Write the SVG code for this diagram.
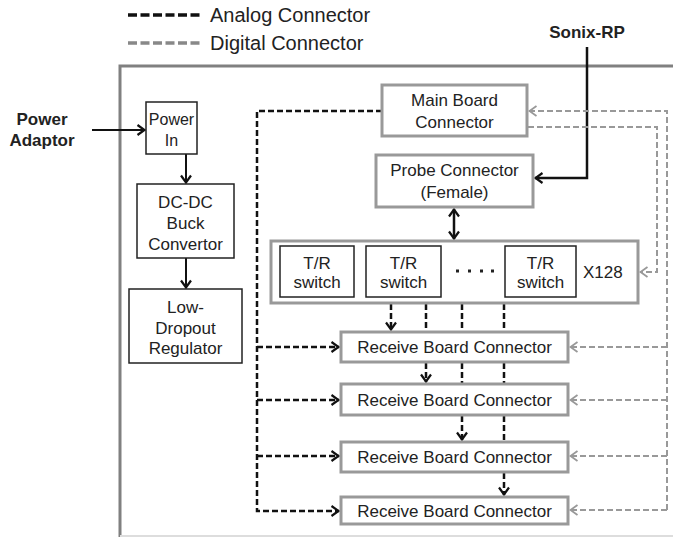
<svg xmlns="http://www.w3.org/2000/svg" width="673" height="537" viewBox="0 0 673 537">
<defs>
<style>
text{font-family:"Liberation Sans",Arial,sans-serif;font-size:17px;fill:#222;text-anchor:middle}
.b{font-weight:bold}
.sm{font-size:16px}
.lg{font-size:20px;text-anchor:start}
.gb{fill:#fff;stroke:#999;stroke-width:3}
.kb{fill:#fff;stroke:#222;stroke-width:1.5}
.an{fill:none;stroke:#111;stroke-width:2.5;stroke-dasharray:6 3}
.dg{fill:none;stroke:#999;stroke-width:2;stroke-dasharray:6 3}
.so{fill:none;stroke:#111;stroke-width:2.5}
</style>
<marker id="ak" viewBox="0 0 10 12" refX="9" refY="6" markerWidth="10" markerHeight="12" orient="auto-start-reverse" markerUnits="userSpaceOnUse"><path d="M1.5,1 L8.5,6 L1.5,11" fill="none" stroke="#111" stroke-width="2.2"/></marker>
<marker id="ag" viewBox="0 0 10 12" refX="9" refY="6" markerWidth="10" markerHeight="12" orient="auto" markerUnits="userSpaceOnUse"><path d="M1.5,1 L8.5,6 L1.5,11" fill="none" stroke="#999" stroke-width="1.8"/></marker>
</defs>

<g id="legend">
<line x1="128" y1="15" x2="200" y2="15" stroke="#111" stroke-width="3.5" stroke-dasharray="9 3.5"/>
<text class="lg" x="210" y="22">Analog Connector</text>
<line x1="128" y1="43" x2="200" y2="43" stroke="#888" stroke-width="3.5" stroke-dasharray="9 3.5"/>
<text class="lg" x="210" y="50">Digital Connector</text>
</g>

<g id="frame">
<path d="M120,537 V66 H673" fill="none" stroke="#808080" stroke-width="3"/>
<line x1="120" y1="536" x2="673" y2="536" stroke="#ddd" stroke-width="2"/>
</g>

<g id="labels">
<text class="b" x="587" y="38">Sonix-RP</text>
<text class="b" x="42" y="125">Power</text>
<text class="b" x="42" y="146">Adaptor</text>
</g>

<g id="connectors">
<path class="so" d="M587,47 V178 H535" marker-end="url(#ak)"/>
<line x1="92" y1="130" x2="145" y2="130" stroke="#111" stroke-width="2" marker-end="url(#ak)"/>
<line x1="186" y1="154" x2="186" y2="183" stroke="#111" stroke-width="2" marker-end="url(#ak)"/>
<line x1="186" y1="258" x2="186" y2="288" stroke="#111" stroke-width="2" marker-end="url(#ak)"/>
<line x1="454" y1="209" x2="454" y2="239" stroke="#111" stroke-width="2.5" marker-start="url(#ak)" marker-end="url(#ak)"/>
<path class="an" d="M382,111 H257 V511 H339" marker-end="url(#ak)"/>
<path class="an" d="M257,347 H339" marker-end="url(#ak)"/>
<path class="an" d="M257,400 H339" marker-end="url(#ak)"/>
<path class="an" d="M257,456 H339" marker-end="url(#ak)"/>
<path class="an" d="M391,304 V330" marker-end="url(#ak)"/>
<path class="an" d="M426,304 V332"/>
<path class="an" d="M426,363 V382" marker-end="url(#ak)"/>
<path class="an" d="M462,304 V332"/>
<path class="an" d="M462,363 V384"/>
<path class="an" d="M462,416 V440" marker-end="url(#ak)"/>
<path class="an" d="M504,304 V332"/>
<path class="an" d="M504,363 V384"/>
<path class="an" d="M504,416 V442"/>
<path class="an" d="M504,473 V495" marker-end="url(#ak)"/>
<path class="dg" d="M667,510 V111 H529" marker-end="url(#ag)"/>
<path class="dg" d="M667,347 H570" marker-end="url(#ag)"/>
<path class="dg" d="M667,400 H570" marker-end="url(#ag)"/>
<path class="dg" d="M667,456 H570" marker-end="url(#ag)"/>
<path class="dg" d="M667,510 H570" marker-end="url(#ag)"/>
<path class="dg" d="M528,127 H657 V272 H640" marker-end="url(#ag)"/>
</g>

<g id="power-in"><rect class="kb" x="146" y="102" width="51" height="52"/><text class="sm" x="171.5" y="125">Power</text><text class="sm" x="171.5" y="146">In</text></g>
<g id="dcdc"><rect class="kb" x="137" y="184" width="97" height="74"/><text x="185.5" y="208">DC-DC</text><text x="185.5" y="228.5">Buck</text><text x="185.5" y="249.5">Convertor</text></g>
<g id="ldo"><rect class="kb" x="129" y="289" width="113" height="74"/><text x="185.5" y="313">Low-</text><text x="185.5" y="333.5">Dropout</text><text x="185.5" y="354">Regulator</text></g>

<g id="main-board"><rect class="gb" x="382" y="85" width="145" height="51"/><text x="454.5" y="106">Main Board</text><text x="454.5" y="128">Connector</text></g>
<g id="probe"><rect class="gb" x="376" y="155" width="157" height="52"/><text x="454.5" y="176">Probe Connector</text><text x="454.5" y="198">(Female)</text></g>

<g id="tr-array">
<rect class="gb" x="271" y="241" width="367" height="62"/>
<rect class="kb" x="280" y="246" width="74" height="51"/><text x="317" y="269">T/R</text><text x="317" y="288">switch</text>
<rect class="kb" x="366" y="246" width="75" height="51"/><text x="403.5" y="269">T/R</text><text x="403.5" y="288">switch</text>
<rect class="kb" x="505" y="246" width="71" height="51"/><text x="540.5" y="269">T/R</text><text x="540.5" y="288">switch</text>
<g fill="#222"><rect x="456" y="269.5" width="3" height="3"/><rect x="468" y="269.5" width="3" height="3"/><rect x="480" y="269.5" width="3" height="3"/><rect x="491" y="269.5" width="3" height="3"/></g>
<text x="583" y="278" style="text-anchor:start">X128</text>
</g>

<g id="rx1"><rect class="gb" x="341" y="332" width="227" height="30"/><text x="454.5" y="353">Receive Board Connector</text></g>
<g id="rx2"><rect class="gb" x="341" y="384" width="227" height="31"/><text x="454.5" y="405.5">Receive Board Connector</text></g>
<g id="rx3"><rect class="gb" x="341" y="442" width="227" height="30"/><text x="454.5" y="463">Receive Board Connector</text></g>
<g id="rx4"><rect class="gb" x="341" y="497" width="227" height="27"/><text x="454.5" y="516.5">Receive Board Connector</text></g>
</svg>
